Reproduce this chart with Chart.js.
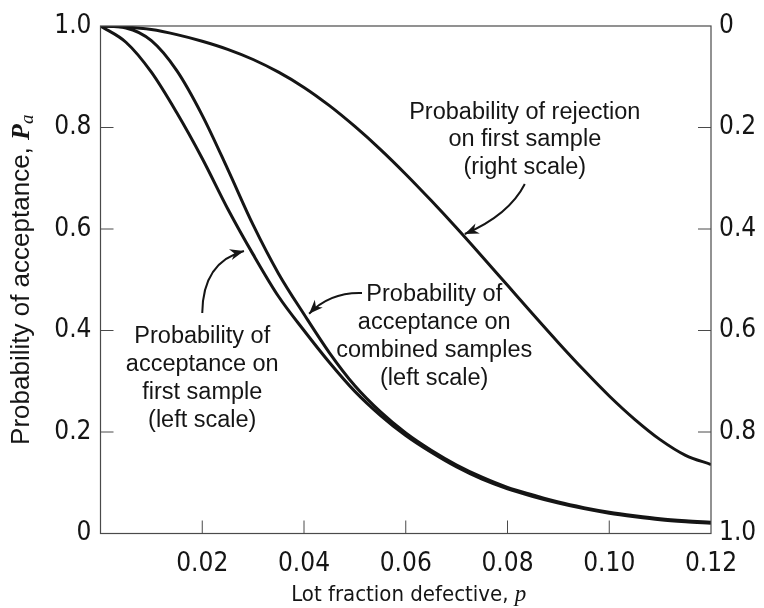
<!DOCTYPE html>
<html>
<head>
<meta charset="utf-8">
<script src="https://cdn.jsdelivr.net/npm/chart.js@4.4.1/dist/chart.umd.min.js"></script>
<style>
  html, body { margin: 0; padding: 0; background: #fff; }
  #wrap { width: 764px; height: 608px; }
</style>
</head>
<body>
<div id="wrap"><canvas id="oc" width="764" height="608"></canvas></div>
<script>
// Lot fraction defective p (x values shared by all three curves)
const lotFraction = [0, 0.005, 0.01, 0.015, 0.02, 0.025, 0.03, 0.035, 0.04, 0.045, 0.05, 0.055,
  0.06, 0.065, 0.07, 0.075, 0.08, 0.085, 0.09, 0.095, 0.10, 0.105, 0.11, 0.115, 0.12];

// Probability of acceptance on first sample (left scale)
const acceptFirst = [1.000, 0.968, 0.909, 0.829, 0.739, 0.640, 0.550, 0.467, 0.400, 0.337, 0.280,
  0.233, 0.193, 0.160, 0.131, 0.107, 0.088, 0.073, 0.060, 0.049, 0.040, 0.033, 0.027, 0.023, 0.020];

// Probability of acceptance on combined samples (left scale)
const acceptCombined = [1.000, 0.996, 0.971, 0.912, 0.824, 0.718, 0.608, 0.512, 0.432, 0.356, 0.291,
  0.240, 0.198, 0.164, 0.135, 0.111, 0.091, 0.076, 0.062, 0.051, 0.042, 0.035, 0.029, 0.025, 0.022];

// Probability of rejection on first sample (right scale, increasing downward)
const rejectFirst = [0.000, 0.002, 0.007, 0.017, 0.030, 0.046, 0.066, 0.091, 0.121, 0.157, 0.198,
  0.243, 0.292, 0.344, 0.398, 0.454, 0.511, 0.568, 0.624, 0.678, 0.729, 0.775, 0.815, 0.846, 0.864];

// Tick values
const xTicks = [0.02, 0.04, 0.06, 0.08, 0.10, 0.12];
const leftTicks = [0, 0.2, 0.4, 0.6, 0.8, 1.0];
const rightTicks = [0, 0.2, 0.4, 0.6, 0.8, 1.0];

const SANS = '"Liberation Sans", Arial, sans-serif';
const NARROW = '"DejaVu Sans Condensed", "Liberation Sans", sans-serif';
const INK = '#151515';

// Callout texts with their anchor (data units, left scale) and arrow path
const callouts = [
  { lines: ['Probability of rejection', 'on first sample', '(right scale)'],
    at: [0.0834, 0.8305],
    arrow: [[0.0834, 0.6887], [0.0803, 0.6276], [0.0716, 0.5901]] },
  { lines: ['Probability of', 'acceptance on', 'combined samples', '(left scale)'],
    at: [0.0656, 0.4700],
    arrow: [[0.0514, 0.4739], [0.0451, 0.4759], [0.0410, 0.4330]] },
  { lines: ['Probability of', 'acceptance on', 'first sample', '(left scale)'],
    at: [0.0200, 0.3872],
    arrow: [[0.0200, 0.4345], [0.0201, 0.5350], [0.0282, 0.5567]] }
];

function pts(ys) { return lotFraction.map((x, i) => ({ x: x, y: ys[i] })); }

function drawRuns(ctx, runs, cx, cy) {
  let total = 0;
  runs.forEach(r => { ctx.font = r.font; r.w = ctx.measureText(r.text).width; total += r.w; });
  let x = cx - total / 2;
  ctx.textAlign = 'left';
  ctx.textBaseline = 'middle';
  runs.forEach(r => { ctx.font = r.font; ctx.fillText(r.text, x, cy + (r.dy || 0)); x += r.w; });
}

// Frame, inward ticks, axis titles and callouts
const decorations = {
  id: 'decorations',
  afterDatasetsDraw(chart) {
    const { ctx, chartArea: a, scales } = chart;
    const sx = scales.x, sy = scales.y, sy2 = scales.y2;
    ctx.save();
    ctx.strokeStyle = '#4a4a4a';
    ctx.lineWidth = 1.2;
    ctx.strokeRect(a.left, a.top, a.right - a.left, a.bottom - a.top);
    const TL = 13;
    ctx.lineWidth = 1;
    ctx.beginPath();
    xTicks.forEach(v => { if (v > 0 && v < 0.12) { const px = sx.getPixelForValue(v); ctx.moveTo(px, a.bottom); ctx.lineTo(px, a.bottom - TL); } });
    leftTicks.forEach(v => { if (v > 0 && v < 1) { const py = sy.getPixelForValue(v); ctx.moveTo(a.left, py); ctx.lineTo(a.left + TL, py); } });
    rightTicks.forEach(v => { if (v > 0 && v < 1) { const py = sy2.getPixelForValue(v); ctx.moveTo(a.right, py); ctx.lineTo(a.right - TL, py); } });
    ctx.stroke();

    ctx.fillStyle = INK;
    // x-axis title
    drawRuns(ctx, [
      { text: 'Lot fraction defective, ', font: '22px ' + NARROW },
      { text: 'p', font: 'italic 23px "Liberation Serif", serif' }
    ], (a.left + a.right) / 2 + 3, 595);
    // y-axis title
    ctx.save();
    ctx.translate(22, (a.top + a.bottom) / 2);
    ctx.rotate(-Math.PI / 2);
    drawRuns(ctx, [
      { text: 'Probability of acceptance, ', font: '26px ' + SANS },
      { text: 'P', font: 'bold italic 26px "Liberation Serif", serif' },
      { text: 'a', font: 'italic 19px "Liberation Serif", serif', dy: 6 }
    ], 0, 0);
    ctx.restore();

    // callouts
    ctx.font = '23.5px ' + SANS;
    ctx.textAlign = 'center';
    ctx.textBaseline = 'middle';
    callouts.forEach(c => {
      const cx = sx.getPixelForValue(c.at[0]);
      const cy = sy.getPixelForValue(c.at[1]);
      c.lines.forEach((t, i) => ctx.fillText(t, cx, cy + i * 27.8));
      const p = c.arrow.map(q => [sx.getPixelForValue(q[0]), sy.getPixelForValue(q[1])]);
      ctx.strokeStyle = INK;
      ctx.lineWidth = 2;
      ctx.beginPath();
      ctx.moveTo(p[0][0], p[0][1]);
      ctx.quadraticCurveTo(p[1][0], p[1][1], p[2][0], p[2][1]);
      ctx.stroke();
      const ang = Math.atan2(p[2][1] - p[1][1], p[2][0] - p[1][0]);
      const L = 14, W = 5.5;
      ctx.beginPath();
      ctx.moveTo(p[2][0], p[2][1]);
      ctx.lineTo(p[2][0] - L * Math.cos(ang) + W * Math.sin(ang), p[2][1] - L * Math.sin(ang) - W * Math.cos(ang));
      ctx.lineTo(p[2][0] - 0.7 * L * Math.cos(ang), p[2][1] - 0.7 * L * Math.sin(ang));
      ctx.lineTo(p[2][0] - L * Math.cos(ang) - W * Math.sin(ang), p[2][1] - L * Math.sin(ang) + W * Math.cos(ang));
      ctx.closePath();
      ctx.fill();
    });
    ctx.restore();
  }
};

const lineStyle = { borderColor: INK, borderWidth: 3, pointRadius: 0, cubicInterpolationMode: 'monotone', fill: false };
const tickFont = { family: NARROW, size: 26 };

new Chart(document.getElementById('oc'), {
  type: 'line',
  data: {
    datasets: [
      Object.assign({ label: 'Probability of acceptance on first sample', data: pts(acceptFirst), yAxisID: 'y' }, lineStyle),
      Object.assign({ label: 'Probability of acceptance on combined samples', data: pts(acceptCombined), yAxisID: 'y' }, lineStyle),
      Object.assign({ label: 'Probability of rejection on first sample', data: pts(rejectFirst), yAxisID: 'y2' }, lineStyle)
    ]
  },
  options: {
    responsive: false,
    animation: false,
    layout: { padding: { top: 26, left: 0, right: 0, bottom: 0 } },
    plugins: { legend: { display: false }, tooltip: { enabled: false } },
    scales: {
      x: {
        type: 'linear', position: 'bottom', min: 0, max: 0.12,
        grid: { display: false, drawTicks: false }, border: { display: false },
        afterBuildTicks: s => { s.ticks = xTicks.map(v => ({ value: v })); },
        afterFit: s => { s.height = 74.5; },
        ticks: { padding: 15, color: INK, font: tickFont, maxRotation: 0, autoSkip: false,
                 callback: v => v.toFixed(2) }
      },
      y: {
        type: 'linear', position: 'left', min: 0, max: 1,
        grid: { display: false, drawTicks: false }, border: { display: false },
        afterBuildTicks: s => { s.ticks = leftTicks.map(v => ({ value: v })); },
        afterFit: s => { s.width = 100.5; },
        ticks: { padding: 9, color: INK, font: tickFont, autoSkip: false,
                 callback: v => (v === 0 ? '0' : v.toFixed(1)) }
      },
      y2: {
        type: 'linear', position: 'right', min: 0, max: 1, reverse: true,
        grid: { display: false, drawTicks: false }, border: { display: false },
        afterBuildTicks: s => { s.ticks = rightTicks.map(v => ({ value: v })); },
        afterFit: s => { s.width = 53; },
        ticks: { padding: 8, color: INK, font: tickFont, autoSkip: false,
                 callback: v => (v === 0 ? '0' : v.toFixed(1)) }
      }
    }
  },
  plugins: [decorations]
});
</script>
</body>
</html>
